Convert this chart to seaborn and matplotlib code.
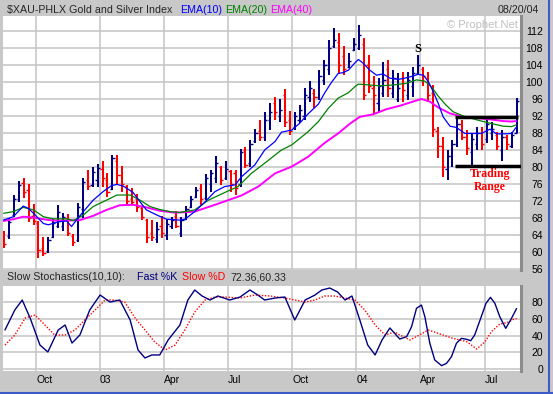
import matplotlib
matplotlib.use("Agg")
import matplotlib.pyplot as plt
from matplotlib.lines import Line2D
import seaborn as sns
import pandas as pd
import numpy as np

# ---------------- data (weekly bars) ----------------
week = list(range(105))
bar_open = [64.0, 63.8, 68.8, 72.4, 76.2, 74.5, 68.5, 66.8, 61.0, 60.2,
            63.5, 66.2, 66.0, 68.0, 63.8, 62.8, 70.0, 77.0, 75.8, 77.0,
            79.5, 77.0, 74.8, 81.5, 78.0, 75.5, 72.5, 72.5, 70.3, 67.5,
            64.5, 63.0, 66.0, 64.0, 66.0, 68.5, 64.5, 67.8, 70.5, 73.0,
            75.0, 72.8, 76.0, 77.5, 80.0, 77.5, 79.0, 78.5, 76.0, 84.0,
            81.0, 86.0, 88.5, 87.0, 91.0, 95.0, 92.0, 97.0, 91.0, 89.5,
            91.0, 92.0, 96.5, 97.5, 96.5, 100.5, 103.0, 108.5, 109.5, 106.0,
            103.5, 107.5, 108.0, 109.0, 104.0, 98.5, 95.0, 97.5, 103.0, 97.5,
            96.0, 101.0, 97.0, 99.0, 102.0, 103.0, 101.0, 97.5, 88.5, 85.0,
            79.5, 82.5, 85.5, 90.0, 87.0, 83.5, 85.5, 88.0, 86.5, 88.0,
            87.5, 84.0, 87.0, 85.0, 88.0]
bar_high = [64.9, 67.9, 73.4, 76.6, 77.3, 76.0, 71.3, 67.3, 63.5, 63.5,
            67.7, 71.1, 69.1, 68.9, 64.2, 71.5, 77.3, 79.3, 80.1, 80.7,
            81.3, 78.5, 82.8, 82.8, 80.3, 75.8, 75.0, 73.6, 70.9, 67.7,
            67.5, 67.1, 68.5, 67.7, 68.3, 69.7, 68.3, 70.8, 73.2, 75.4,
            75.9, 78.4, 79.3, 82.6, 80.3, 81.4, 79.3, 79.3, 84.3, 84.8,
            86.4, 88.9, 91.1, 93.0, 95.0, 96.4, 96.0, 98.3, 93.2, 93.0,
            94.6, 98.5, 100.2, 98.3, 102.8, 105.2, 109.9, 112.8, 111.5, 108.5,
            106.9, 110.3, 113.4, 110.3, 106.4, 101.3, 100.9, 104.8, 105.2, 102.8,
            102.2, 102.4, 102.4, 103.6, 106.4, 103.6, 102.4, 99.3, 89.5, 87.1,
            84.0, 86.4, 91.8, 91.1, 88.7, 87.9, 89.5, 89.5, 91.8, 90.7,
            88.3, 88.7, 87.5, 88.3, 96.2]
bar_low = [61.0, 63.0, 68.3, 71.8, 72.6, 67.1, 66.4, 58.7, 59.1, 59.7,
           63.2, 65.6, 65.0, 63.8, 61.5, 62.3, 67.9, 74.6, 75.4, 75.2,
           75.4, 73.0, 74.6, 75.8, 74.2, 71.1, 71.3, 69.5, 67.5, 62.0,
           62.7, 62.0, 63.2, 62.8, 65.3, 65.6, 63.6, 67.5, 70.3, 72.6,
           71.1, 72.2, 74.2, 76.2, 75.8, 76.9, 74.2, 73.3, 75.4, 79.7,
           80.1, 85.6, 86.0, 86.0, 88.7, 91.1, 90.7, 89.5, 87.5, 88.7,
           90.3, 91.1, 95.4, 93.8, 95.8, 99.3, 101.6, 107.9, 102.0, 101.6,
           103.2, 107.3, 107.6, 95.8, 97.3, 92.4, 93.0, 96.4, 96.4, 96.2,
           95.4, 95.4, 95.8, 96.5, 101.6, 99.0, 95.4, 87.1, 82.0, 77.7,
           76.9, 80.1, 84.8, 86.4, 82.8, 80.5, 84.0, 84.0, 85.6, 86.4,
           84.0, 81.3, 84.0, 84.4, 87.9]
bar_close = [61.8, 67.0, 72.5, 75.8, 74.2, 68.0, 67.2, 60.5, 59.8, 62.8,
             66.8, 69.5, 68.2, 64.5, 62.3, 70.5, 76.5, 75.5, 78.8, 79.8,
             77.5, 74.0, 82.0, 78.0, 76.0, 72.0, 71.8, 70.5, 68.2, 63.5,
             63.5, 65.5, 64.5, 66.5, 67.5, 66.0, 67.5, 70.0, 72.5, 74.5,
             72.5, 77.5, 78.5, 81.0, 77.0, 79.5, 76.0, 75.0, 83.5, 80.5,
             85.5, 88.0, 87.0, 91.0, 93.0, 93.0, 93.5, 90.5, 88.5, 92.0,
             93.5, 97.0, 98.5, 96.5, 101.5, 104.0, 108.0, 110.0, 104.0, 103.0,
             105.0, 109.0, 111.0, 97.0, 99.0, 97.0, 99.0, 100.5, 98.5, 101.0,
             98.5, 98.0, 100.5, 102.0, 104.0, 101.5, 97.0, 89.0, 85.0, 80.0,
             82.5, 85.5, 90.0, 87.0, 84.5, 86.5, 88.0, 85.5, 90.0, 89.0,
             85.0, 87.0, 85.5, 87.5, 95.5]

ema10_pos = [-0.1, 1.9, 3.9, 4.9, 6.0, 8.0, 9.0, 11.0, 12.7, 13.7, 14.7, 16.1, 18.1,
             20.1, 21.8, 22.9, 24.2, 26.2, 27.6, 28.9, 31.0, 33.0, 35.7, 36.7, 38.7,
             40.8, 42.8, 44.8, 46.9, 48.2, 50.9, 52.9, 55.0, 56.3, 58.4, 60.0, 61.7,
             63.8, 65.1, 66.5, 67.8, 68.8, 69.9, 71.2, 71.9, 72.9, 74.2, 75.6, 76.9,
             78.3, 80.0, 81.3, 82.7, 84.0, 85.1, 86.1, 87.1, 88.1, 89.1, 90.5, 91.8,
             93.5, 95.2, 96.9, 98.6, 99.9, 101.9, 103.0, 103.9]
ema10_val = [67.5, 68.3, 70.8, 70.3, 69.1, 66.7, 66.4, 67.1, 67.3, 66.0, 67.5, 69.5, 72.2,
             74.2, 75.6, 75.9, 75.5, 74.0, 71.8, 69.9, 68.7, 67.7, 67.5, 67.7, 69.5,
             71.8, 74.2, 75.4, 75.8, 77.7, 80.5, 84.0, 86.0, 88.2, 88.7, 90.3, 92.5,
             94.8, 97.5, 100.0, 102.0, 102.2, 102.8, 104.5, 105.3, 104.4, 102.8, 101.6, 101.9,
             100.9, 100.6, 100.9, 101.3, 101.8, 101.6, 100.1, 97.7, 95.0, 91.8, 89.6, 89.3,
             87.9, 87.9, 87.9, 88.9, 87.8, 87.8, 87.9, 89.3]
ema20_pos = [-0.1, 1.9, 3.9, 6.0, 8.0, 10.0, 12.7, 14.1, 16.1, 18.1, 20.8, 22.9, 25.6,
             27.6, 29.6, 31.6, 33.7, 35.7, 38.7, 41.5, 44.8, 47.5, 50.2, 52.9, 56.3,
             58.4, 61.7, 63.8, 65.8, 67.8, 69.9, 71.2, 71.9, 74.2, 76.3, 79.0, 81.7,
             83.7, 85.4, 86.7, 88.1, 89.5, 91.1, 93.2, 95.9, 98.6, 101.3, 103.0, 103.9]
ema20_val = [69.1, 69.5, 70.5, 69.9, 68.3, 67.8, 67.8, 67.4, 68.7, 70.7, 72.2, 73.4, 73.4,
             72.2, 70.7, 70.0, 69.5, 69.3, 69.9, 72.2, 74.0, 75.4, 78.5, 80.9, 84.0,
             85.2, 88.3, 90.7, 93.8, 96.2, 97.5, 98.9, 99.5, 99.3, 99.1, 99.3, 99.7,
             100.5, 100.2, 98.9, 96.7, 94.8, 93.0, 92.0, 91.1, 90.3, 89.6, 89.5, 89.9]
ema40_pos = [-0.1, 1.9, 3.9, 6.0, 8.0, 10.0, 12.7, 15.4, 18.1, 20.8, 23.5, 26.2, 28.9,
             31.6, 34.3, 35.7, 38.7, 42.8, 45.5, 48.2, 51.6, 55.0, 58.4, 61.7, 65.1,
             67.8, 70.2, 72.2, 74.9, 77.6, 80.3, 83.0, 84.7, 86.4, 88.1, 90.5, 93.2,
             95.9, 98.6, 101.3, 103.0, 103.9]
ema40_val = [67.3, 67.7, 68.3, 68.1, 67.7, 67.4, 67.4, 67.5, 68.5, 69.9, 71.0, 71.1, 70.5,
             69.7, 69.3, 69.3, 69.5, 71.1, 72.2, 73.3, 75.4, 78.5, 80.1, 82.4, 85.7,
             87.9, 90.2, 91.8, 92.4, 93.6, 94.4, 95.4, 96.0, 95.4, 94.0, 92.6, 91.8,
             91.5, 91.2, 90.8, 90.7, 90.8]

k_pos = [0.2, 2.2, 3.7, 5.3, 7.3, 8.9, 11.0, 12.4, 13.8, 15.4, 17.4, 19.5, 21.5, 23.5,
         25.6, 27.2, 28.6, 30.0, 31.6, 33.3, 35.7, 37.3, 38.7, 40.2, 41.8, 43.4, 45.8,
         47.9, 49.9, 51.5, 52.9, 55.0, 57.0, 59.0, 61.1, 63.1, 64.5, 66.1, 67.7, 69.2,
         70.6, 72.2, 73.8, 75.3, 76.7, 78.3, 80.3, 81.7, 82.7, 83.7, 84.7, 85.4, 86.4,
         87.4, 88.8, 89.8, 90.8, 91.8, 92.8, 93.9, 94.7, 95.5, 96.6, 97.8, 98.7, 99.6,
         100.6, 101.8, 102.8, 104.0]
k_val = [46.7, 70.7, 82.6, 61.1, 28.7, 20.4, 46.7, 52.7, 31.1, 40.7, 70.7, 88.6, 80.2, 82.6,
         58.7, 22.8, 13.2, 16.8, 16.8, 34.7, 52.7, 82.6, 94.6, 87.4, 82.6, 87.4, 82.6,
         86.2, 94.6, 88.6, 82.6, 85.0, 86.2, 58.7, 82.6, 88.6, 94.6, 97.0, 92.2, 82.6,
         87.4, 58.7, 28.7, 16.8, 34.7, 49.1, 35.9, 38.7, 50.7, 72.7, 76.6, 62.6, 30.8,
         10.8, 4.0, 6.8, 14.8, 30.8, 36.7, 35.5, 33.9, 40.7, 58.7, 78.7, 85.8, 78.7,
         62.6, 48.7, 58.7, 72.4]
d_pos = [0.2, 2.2, 4.3, 6.3, 8.3, 10.3, 12.4, 14.4, 16.4, 18.5, 20.5, 22.5, 24.5, 26.6,
         28.6, 30.6, 32.7, 34.7, 36.7, 38.7, 40.8, 42.8, 44.8, 47.9, 50.9, 54.0, 57.0,
         59.0, 61.1, 63.1, 65.1, 67.1, 69.2, 71.2, 73.2, 75.3, 77.3, 79.3, 80.3, 82.4,
         86.1, 89.1, 91.1, 93.9, 95.9, 97.6, 98.9, 100.6, 102.0, 103.4, 104.0]
d_val = [28.7, 40.7, 61.1, 64.7, 52.7, 40.7, 40.7, 46.7, 58.7, 70.7, 82.6, 82.6, 80.2, 61.1,
         46.7, 32.3, 22.8, 28.7, 46.7, 68.3, 82.6, 86.2, 86.2, 85.0, 88.6, 87.4, 85.0,
         82.6, 80.2, 82.6, 87.4, 87.4, 85.0, 82.6, 70.7, 52.7, 40.7, 44.3, 40.7, 34.7,
         46.7, 40.7, 36.7, 32.7, 23.9, 32.7, 44.7, 53.9, 55.5, 59.5, 60.3]

quarter_pos = [6.5, 19.5, 32.5, 45.5, 58.5, 71.5, 84.5, 97.5]
quarter_lab = ["Oct", "03", "Apr", "Jul", "Oct", "04", "Apr", "Jul"]
range_top, range_bottom = 91.8, 80.3

# ---------------- styling ----------------
sns.set_theme(style="white")
plt.rcParams["font.family"] = ["Liberation Sans", "DejaVu Sans"]
bg = "#c8c8c8"
grid_c = "#c4c4c4"
W, H = 553, 394

fig = plt.figure(figsize=(5.53, 3.94), dpi=100, facecolor=bg)
ax = fig.add_axes([3 / W, 1 - 270 / H, 517.5 / W, 254 / H])
ax2 = fig.add_axes([3 / W, 1 - 371 / H, 517.5 / W, 85 / H])

for a in (ax, ax2):
    a.set_facecolor("white")
    for s in a.spines.values():
        s.set_visible(False)
    a.spines["right"].set_visible(True)
    a.spines["right"].set_color("#8c8c8c")
    a.spines["right"].set_linewidth(2.2)
    a.set_xlim(-0.2, 104.8)
    a.set_xticks(quarter_pos)
    a.grid(True, color=grid_c, linewidth=1.1)
    a.set_axisbelow(True)
    a.yaxis.tick_right()
    a.tick_params(axis="both", length=0, labelsize=7.5, colors="black")
    a.set_xlabel("")
    a.set_ylabel("")

# ---- price panel ----
ax.set_ylim(55.76, 115.53)
ax.set_yticks(np.arange(56, 113, 4))
ax.set_xticklabels([])
ax.tick_params(axis="y", pad=16.2)
for lab in ax.get_yticklabels():
    lab.set_ha("right")

bars = pd.DataFrame({"week": week, "open": bar_open, "high": bar_high,
                     "low": bar_low, "close": bar_close})
bars["color"] = np.where(bars["close"] >= bars["open"], "#000080", "#ff0000")

ax.vlines(bars["week"], bars["low"], bars["high"], colors=bars["color"], linewidth=1.45, zorder=3)
ax.hlines(bars["open"], bars["week"] - 0.45, bars["week"], colors=bars["color"], linewidth=1.0, zorder=3)
ax.hlines(bars["close"], bars["week"], bars["week"] + 0.45, colors=bars["color"], linewidth=1.0, zorder=3)

sns.lineplot(x=ema40_pos, y=ema40_val, ax=ax, color="#ff00ff", linewidth=1.4, zorder=4)
sns.lineplot(x=ema20_pos, y=ema20_val, ax=ax, color="#008000", linewidth=0.9, zorder=4)
sns.lineplot(x=ema10_pos, y=ema10_val, ax=ax, color="#0000ff", linewidth=0.9, zorder=4)

# trading range annotation
ax.hlines(range_top, 91.5, 104.2, colors="black", linewidth=2.5, zorder=5)
ax.hlines(range_bottom, 91.5, 104.8, colors="black", linewidth=2.5, zorder=5)
ax.text(98.6, 78.4, "Trading", color="#ff0000", fontsize=8.5, fontweight="bold",
        family="Liberation Serif", ha="center", va="center")
ax.text(98.6, 75.4, "Range", color="#ff0000", fontsize=8.5, fontweight="bold",
        family="Liberation Serif", ha="center", va="center")
ax.text(84.0, 107.8, "S", color="black", fontsize=9, fontweight="bold",
        family="Liberation Serif", ha="center", va="center")

# ---- stochastics panel ----
ax2.set_ylim(-2.4, 99.4)
ax2.set_yticks([0, 20, 40, 60, 80])
ax2.tick_params(axis="y", pad=16.2)
for lab in ax2.get_yticklabels():
    lab.set_ha("right")
ax2.set_xticklabels(quarter_lab)
ax2.tick_params(axis="x", pad=3.2)
for lab in ax2.get_xticklabels():
    lab.set_ha("left")

sns.lineplot(x=d_pos, y=d_val, ax=ax2, color="#ff0000", linewidth=1.0,
             linestyle=(0, (1, 1.2)), zorder=3)
sns.lineplot(x=k_pos, y=k_val, ax=ax2, color="#000080", linewidth=1.0, zorder=4)

# ---- header texts ----
def px(x, y):
    return x / W, 1 - y / H

fs = 7.7
fig.text(*px(7, 10), "$XAU-PHLX Gold and Silver Index", fontsize=fs, va="center")
fig.text(*px(180, 10), "EMA(10)", fontsize=fs, va="center", color="#0000ff")
fig.text(*px(225, 10), "EMA(20)", fontsize=fs, va="center", color="#008000")
fig.text(*px(270, 10), "EMA(40)", fontsize=fs, va="center", color="#ff00ff")
fig.text(*px(539, 10), "08/20/04", fontsize=fs, va="center", ha="right")
fig.text(*px(518, 25), "\u00a9 Prophet.Net", fontsize=8, va="center", ha="right", color="#c0c0c0")

fig.text(*px(7, 277.5), "Slow Stochastics(10,10):", fontsize=fs, va="center")
fig.text(*px(137, 277.5), "Fast %K", fontsize=fs, va="center", color="#000080")
fig.text(*px(182, 277.5), "Slow %D", fontsize=fs, va="center", color="#ff0000")
fig.text(*px(230, 277.5), "72.36,60.33", fontsize=fs, va="center")

# window frame
fig.add_artist(Line2D([548.5 / W, 548.5 / W], [0, 1], color="#3c5ac8", linewidth=1.5))
fig.add_artist(Line2D([0, 1], [1.5 / H, 1.5 / H], color="#3c5ac8", linewidth=1.5))

fig.savefig("out.png", dpi=100, facecolor=bg)
